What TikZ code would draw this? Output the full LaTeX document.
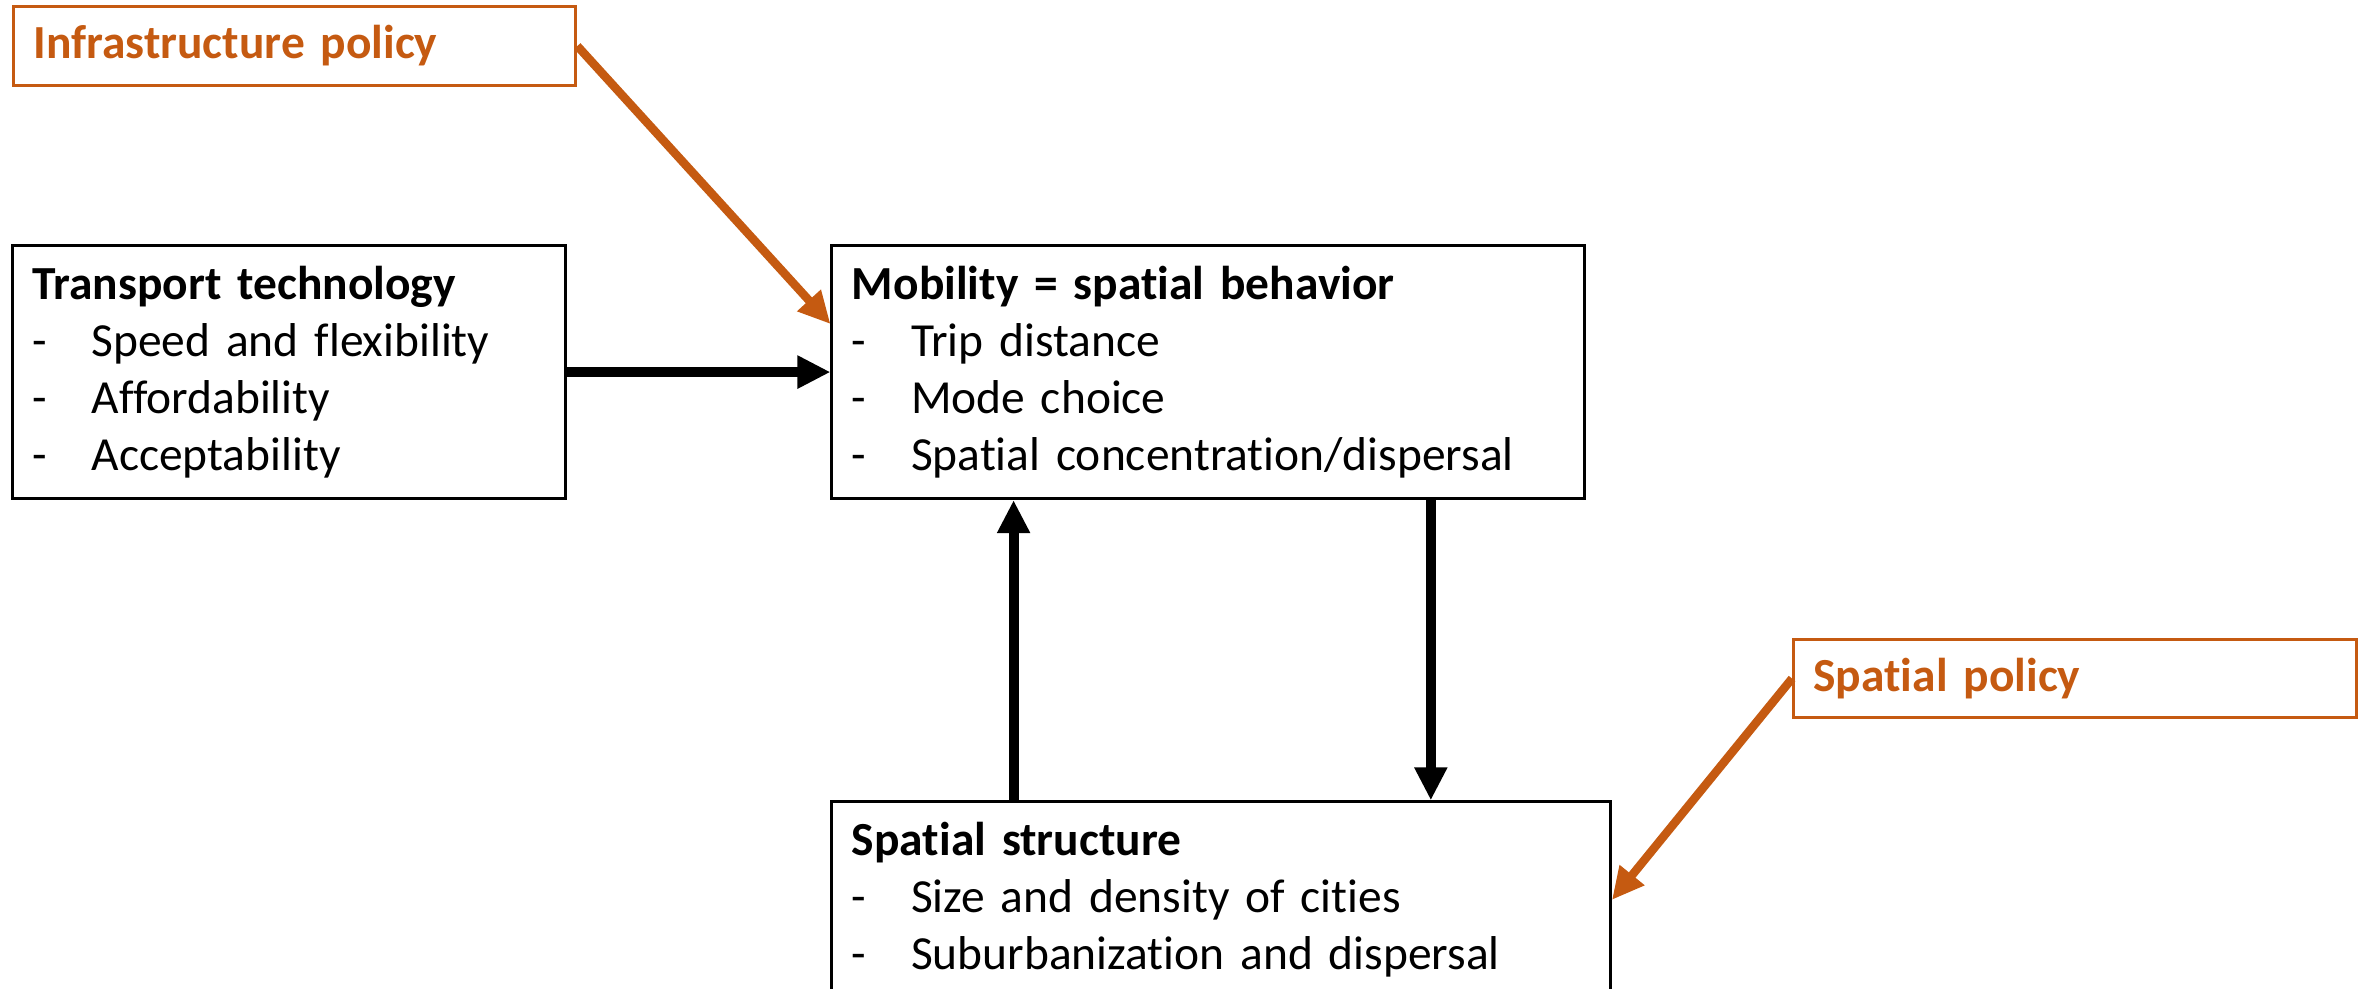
\documentclass[tikz,border=0pt]{standalone}
\usepackage{fontspec}
\setmainfont{Carlito}[Ligatures=NoCommon]
\usetikzlibrary{positioning, arrows.meta}

\definecolor{policyorange}{RGB}{197,90,17}
\newcommand{\itm}[1]{\makebox[0.59cm][l]{-}#1}

\begin{document}
\begin{tikzpicture} [x=0.01cm, y=-0.01cm,
            font=\fontsize{13.5}{16.2}\selectfont,
            factor/.style={draw=black, line width=0.03cm, rectangle,
                align=left, inner xsep=0.2cm, inner ysep=0pt,
                minimum height=2.53cm},
            policy/.style={draw=policyorange, line width=0.03cm, rectangle,
                align=left, inner xsep=0.2cm, inner ysep=0pt,
                text=policyorange, font=\fontsize{13.5}{16.2}\selectfont\bfseries},
            flow/.style={line width=0.1cm,
                -{Triangle[length=0.33cm, width=0.31cm]}},
            push/.style={draw=policyorange, line width=0.085cm,
                -{Triangle[length=0.32cm, width=0.3cm]}}]

        \useasboundingbox (0,0) rectangle (2364,988);

        % Transport technology
        \node (trans) [factor, text width=5.13cm, anchor=north west]
            at (11,244)
            {\textbf{Transport technology}\\
             \itm{Speed and flexibility}\\
             \itm{Affordability}\\
             \itm{Acceptability}};

        % Mobility
        \node (mob) [factor, text width=7.12cm,
            right = 2.63cm of trans]
            {\textbf{Mobility = spatial behavior}\\
             \itm{Trip distance}\\
             \itm{Mode choice}\\
             \itm{Spatial concentration/dispersal}};

        % Spatial structure
        \node (ss) [factor, text width=7.38cm, minimum height=1.96cm,
            below = 3cm of mob.south west, anchor=north west]
            {\textbf{Spatial structure}\\
             \itm{Size and density of cities}\\
             \itm{Suburbanization and dispersal}};

        % Infrastructure policy
        \node (infra) [policy, text width=5.22cm, minimum height=0.79cm,
            anchor=north west] at (12,5) {Infrastructure policy};

        % Spatial policy
        \node (sp) [policy, text width=5.23cm, minimum height=0.78cm,
            anchor=north west] at (1792,638) {Spatial policy};

        % Arrows
        \draw [flow] (trans.east) -- (mob.west);
        \draw [flow] ([xshift=6cm]mob.south west)
            -- ([xshift=6cm]mob.south west |- ss.north);
        \draw [flow] ([xshift=1.83cm]ss.north west)
            -- ([xshift=1.83cm]ss.north west |- mob.south);

        \draw [push] (infra.east) -- ([yshift=0.48cm]mob.west);
        \draw [push] (sp.west) -- (ss.east);
\end{tikzpicture}
\end{document}
